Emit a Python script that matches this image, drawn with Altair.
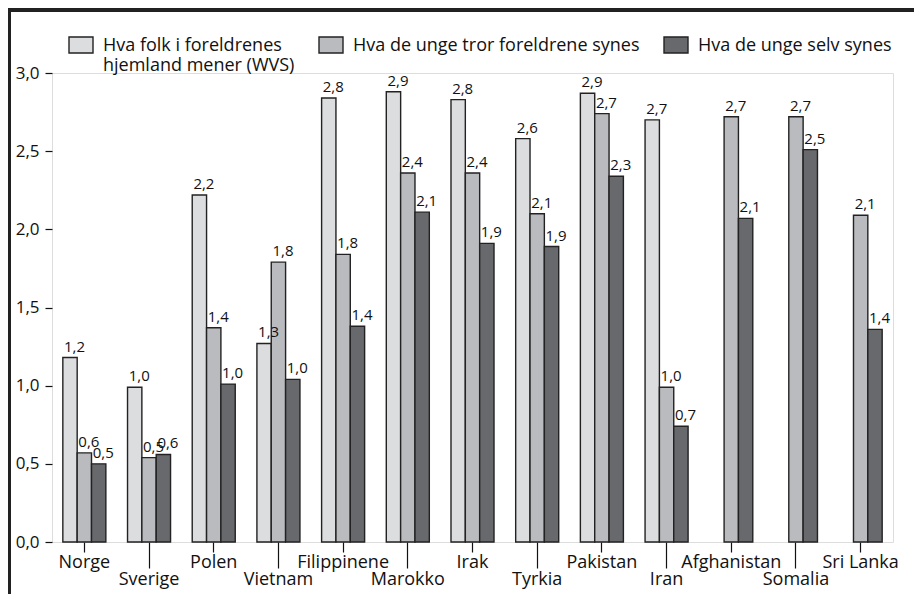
import altair as alt
import pandas as pd

countries = ["Norge", "Sverige", "Polen", "Vietnam", "Filippinene", "Marokko", "Irak",
             "Tyrkia", "Pakistan", "Iran", "Afghanistan", "Somalia", "Sri Lanka"]
series = ["Hva folk i foreldrenes hjemland mener (WVS)",
          "Hva de unge tror foreldrene synes",
          "Hva de unge selv synes"]
wvs = [1.18, 0.99, 2.22, 1.27, 2.84, 2.88, 2.83, 2.58, 2.87, 2.70, None, None, None]
tror = [0.57, 0.54, 1.37, 1.79, 1.84, 2.36, 2.36, 2.10, 2.74, 0.99, 2.72, 2.72, 2.09]
selv = [0.50, 0.56, 1.01, 1.04, 1.38, 2.11, 1.91, 1.89, 2.34, 0.74, 2.07, 2.51, 1.36]
colors = ["#dcdddf", "#babbbe", "#68696d"]
lower_row = ["Sverige", "Vietnam", "Marokko", "Tyrkia", "Iran", "Somalia"]

rows = []
for s, vals in zip(series, [wvs, tror, selv]):
    for c, v in zip(countries, vals):
        if v is not None:
            rows.append({"land": c, "serie": s, "verdi": v})
df = pd.DataFrame(rows)

FONT = "Open Sans"
lower_test = "indexof(" + str(lower_row) + ", datum.value) >= 0"
legend_expr = ("datum.label == '" + series[0] + "' ? ['Hva folk i foreldrenes', 'hjemland mener (WVS)']"
               " : [datum.label, '']")

base = alt.Chart(df).encode(
    x=alt.X("land:N", sort=countries, title=None,
            scale=alt.Scale(paddingInner=0.335, paddingOuter=0.1675),
            axis=alt.Axis(domain=False, labelAngle=0, labelFont=FONT, labelFontSize=18,
                          labelColor="#111", tickColor="#111", tickWidth=1.2,
                          tickSize={"condition": {"test": lower_test, "value": 26}, "value": 10},
                          labelPadding={"condition": {"test": lower_test, "value": 2}, "value": 1})),
    xOffset=alt.XOffset("serie:N", sort=series, scale=alt.Scale(domain=series)),
)

bars = base.mark_bar(stroke="#222", strokeWidth=1.4).encode(
    y=alt.Y("verdi:Q", title=None,
            scale=alt.Scale(domain=[0, 3], nice=False),
            axis=alt.Axis(values=[0, 0.5, 1, 1.5, 2, 2.5, 3], domain=False, grid=False,
                          labelExpr="replace(format(datum.value, '.1f'), '.', ',')",
                          labelFont=FONT, labelFontSize=17, labelColor="#111",
                          tickSize=7, tickColor="#111", tickWidth=1.2, labelPadding=6)),
    color=alt.Color("serie:N", sort=series,
                    scale=alt.Scale(domain=series, range=colors),
                    legend=alt.Legend(title=None, orient="none", direction="horizontal",
                                      legendX=16, legendY=-49,
                                      symbolType="M-1,0 L1,0 L1,1.333 L-1,1.333 Z",
                                      symbolSize=576, symbolStrokeColor="#222",
                                      symbolStrokeWidth=1.4, symbolOpacity=1,
                                      labelBaseline="top", labelOffset=9,
                                      labelFont=FONT, labelFontSize=18, labelColor="#111",
                                      labelLimit=400, columnPadding=21,
                                      labelExpr=legend_expr)),
)

labels = base.mark_text(align="left", baseline="alphabetic", dx=-6, dy=-6,
                        font=FONT, fontSize=15, color="#111").encode(
    y=alt.Y("verdi:Q"),
    text=alt.Text("lbl:N"),
).transform_calculate(lbl="replace(format(datum.verdi, '.1f'), '.', ',')")

frame_top = alt.Chart(df).mark_rule(color="#222", strokeWidth=2.5).encode(
    x=alt.value(-44), x2=alt.value(870), y=alt.value(-63))
frame_left = alt.Chart(df).mark_rule(color="#222", strokeWidth=3).encode(
    x=alt.value(-42.5), y=alt.value(-64), y2=alt.value(530))

chart = alt.layer(bars, labels, frame_top, frame_left).properties(
    width=841, height=469,
    autosize=alt.AutoSizeParams(type="none"),
    padding={"left": 44, "top": 65, "right": 21, "bottom": 52},
).configure_view(stroke="#333", strokeWidth=1.4).configure(background="white")

chart.save("out.html", embed_options={"renderer": "svg", "actions": False})
